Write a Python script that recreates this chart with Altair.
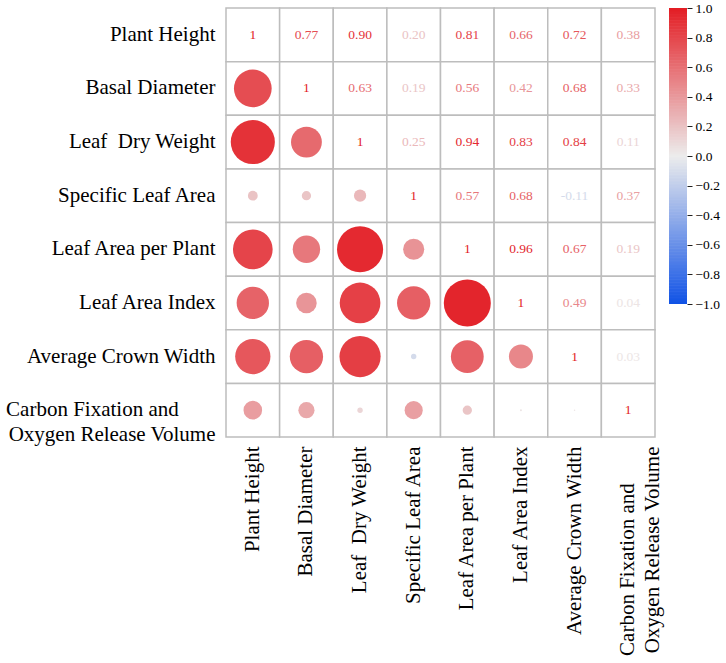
import altair as alt
import pandas as pd

# Trait names (row / column order of the matrix)
names = [
    "Plant Height",
    "Basal Diameter",
    "Leaf\u00a0 Dry Weight",
    "Specific Leaf Area",
    "Leaf Area per Plant",
    "Leaf Area Index",
    "Average Crown Width",
    "Carbon Fixation and\nOxygen Release Volume",
]

# Correlation matrix, one list per row
row_plant_height = [1.00, 0.77, 0.90, 0.20, 0.81, 0.66, 0.72, 0.38]
row_basal_diameter = [0.77, 1.00, 0.63, 0.19, 0.56, 0.42, 0.68, 0.33]
row_leaf_dry_weight = [0.90, 0.63, 1.00, 0.25, 0.94, 0.83, 0.84, 0.11]
row_specific_leaf_area = [0.20, 0.19, 0.25, 1.00, 0.57, 0.68, -0.11, 0.37]
row_leaf_area_per_plant = [0.81, 0.56, 0.94, 0.43, 1.00, 0.96, 0.67, 0.19]
row_leaf_area_index = [0.66, 0.42, 0.83, 0.68, 0.96, 1.00, 0.49, 0.04]
row_crown_width = [0.72, 0.68, 0.84, -0.11, 0.67, 0.49, 1.00, 0.03]
row_carbon_oxygen = [0.38, 0.33, 0.11, 0.37, 0.19, 0.04, 0.03, 1.00]

matrix = [
    row_plant_height,
    row_basal_diameter,
    row_leaf_dry_weight,
    row_specific_leaf_area,
    row_leaf_area_per_plant,
    row_leaf_area_index,
    row_crown_width,
    row_carbon_oxygen,
]

# Colour bar tick values
bar_ticks = [1.0, 0.8, 0.6, 0.4, 0.2, 0.0, -0.2, -0.4, -0.6, -0.8, -1.0]

records = []
for i, rname in enumerate(names):
    for j, cname in enumerate(names):
        records.append({"row": rname, "col": cname, "i": i, "j": j, "r": matrix[i][j]})
df = pd.DataFrame(records)

FONT = "Liberation Serif"
color_scale = alt.Scale(
    domain=[-1, 0, 1], range=["#1052e6", "#ececec", "#e31d24"], interpolate="rgb"
)

# Two-line label: first line padded so both lines start at the same edge
pad = "\u00a0" * 7 + "\u200b"
label_expr = (
    "indexof(datum.label, '\\n') > 0 ? "
    "[split(datum.label, '\\n')[0] + '" + pad + "', split(datum.label, '\\n')[1]] : datum.label"
)

x_axis = alt.Axis(
    orient="bottom", labelAngle=270, labelAlign="right", labelBaseline="middle",
    tickSize=0, domain=False, labelPadding=9, labelFontSize=21, labelFont=FONT,
    labelColor="black", labelLimit=400, labelLineHeight=25, title=None,
    labelExpr=label_expr,
)
y_axis = alt.Axis(
    orient="left", labelAlign="right", labelBaseline="middle",
    tickSize=0, domain=False, labelPadding=11, labelFontSize=21, labelFont=FONT,
    labelColor="black", labelLimit=400, labelLineHeight=25, title=None,
    labelExpr=label_expr,
)

base = alt.Chart(df).encode(
    x=alt.X("col:N", sort=names, scale=alt.Scale(paddingInner=0, paddingOuter=0), axis=x_axis),
    y=alt.Y("row:N", sort=names, scale=alt.Scale(paddingInner=0, paddingOuter=0), axis=y_axis),
)

cells = base.mark_rect(fill="white", stroke="#bdbdbd", strokeWidth=1.5)

circles = (
    base.transform_filter("datum.j < datum.i")
    .transform_calculate(a="abs(datum.r)")
    .mark_circle(opacity=1, strokeWidth=0)
    .encode(
        size=alt.Size("a:Q", scale=alt.Scale(type="pow", exponent=2, domain=[0, 1], range=[0, 2401]), legend=None),
        color=alt.Color("r:Q", scale=color_scale, legend=None),
    )
)

texts = (
    base.transform_filter("datum.j >= datum.i")
    .transform_calculate(
        lab="datum.i == datum.j ? '1' : replace(format(datum.r, '.2f'), '\u2212', '-')"
    )
    .mark_text(font=FONT, fontSize=13.5)
    .encode(
        text="lab:N",
        color=alt.Color("r:Q", scale=color_scale, legend=None),
    )
)

heat = alt.layer(cells, circles, texts).properties(width=429, height=429)

# Colour bar drawn as a stack of thin rectangles
colorbar = (
    alt.Chart(alt.sequence(-100, 101, 1, as_="s"))
    .transform_calculate(
        r="datum.s / 100",
        lo="max(-1, datum.s / 100 - 0.007)",
        hi="min(1, datum.s / 100 + 0.007)",
    )
    .mark_rect(strokeWidth=0)
    .encode(
        x=alt.value(0),
        x2=alt.value(18),
        y=alt.Y(
            "lo:Q",
            scale=alt.Scale(domain=[-1, 1], nice=False, zero=False),
            axis=alt.Axis(
                orient="right", values=bar_ticks, format=".1f", tickSize=5,
                tickColor="#222222", tickWidth=1, domain=False, grid=False,
                labelFont=FONT, labelFontSize=13.5, labelColor="black",
                labelPadding=3, title=None,
            ),
        ),
        y2="hi:Q",
        color=alt.Color("r:Q", scale=color_scale, legend=None),
    )
    .properties(width=18, height=296)
)

chart = (
    alt.hconcat(heat, colorbar, spacing=14, bounds="flush")
    .properties(padding={"left": 5, "top": 1, "right": 2, "bottom": 2})
    .configure_view(stroke=None)
    .resolve_scale(color="shared")
)

chart.save("out.html", embed_options={"renderer": "svg", "actions": False})
